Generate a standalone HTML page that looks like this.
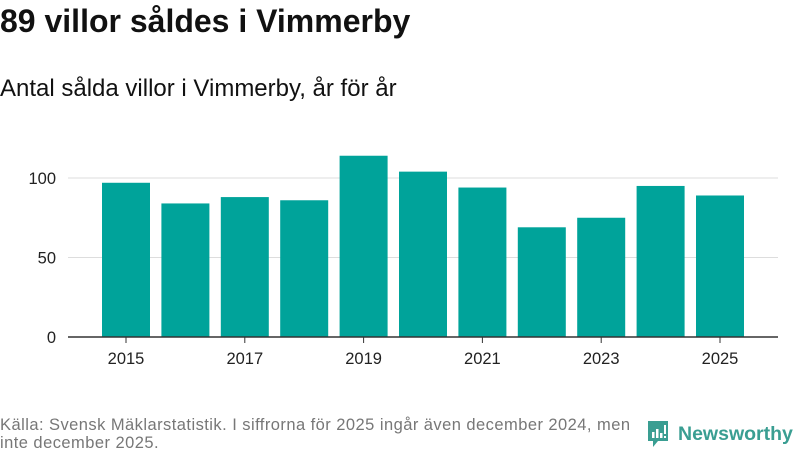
<!DOCTYPE html>
<html><head><meta charset="utf-8"><style>
body{margin:0;width:800px;height:450px;background:#fff;font-family:"Liberation Sans","DejaVu Sans",sans-serif;overflow:hidden;position:relative}
#title{position:absolute;left:0;top:3px;font-size:32px;font-weight:bold;color:#111}
#sub{position:absolute;left:0;top:75px;font-size:24px;color:#111}
#src{position:absolute;left:0;top:416px;font-size:16.5px;letter-spacing:0.45px;color:#777;line-height:18px;white-space:nowrap}
#logo{position:absolute;left:645px;top:419px;display:flex;align-items:center}
#logo span{font-size:19.5px;color:#3a9e92;font-weight:bold;margin-left:7px}
</style></head><body>
<div id="title">89 villor såldes i Vimmerby</div>
<div id="sub">Antal sålda villor i Vimmerby, år för år</div>
<svg id="chart" width="800" height="400" style="position:absolute;left:0;top:0"></svg>
<div id="src">Källa: Svensk Mäklarstatistik. I siffrorna för 2025 ingår även december 2024, men<br>inte december 2025.</div>
<div id="logo">
<svg width="26" height="30" viewBox="0 0 24 30"><path d="M2 2h20v20H12l-5 6v-6H2z" fill="#3a9e92"/><rect x="6" y="13" width="2.5" height="6" fill="#fff"/><rect x="10" y="10" width="2.5" height="9" fill="#fff"/><rect x="14" y="14" width="2.5" height="5" fill="#fff"/><rect x="18" y="6" width="2" height="9" fill="#fff"/><rect x="18" y="17" width="2" height="2" fill="#fff"/></svg>
<span>Newsworthy</span></div>
<script>
const years=[2015,2016,2017,2018,2019,2020,2021,2022,2023,2024,2025];
const values=[97,84,88,86,114,104,94,69,75,95,89];
const yTicks=[0,50,100];
const svg=document.getElementById('chart');
const NS='http://www.w3.org/2000/svg';
const y0=337,pxPer=1.59,x0=126,step=59.4,bw=48;
const y=v=>y0-v*pxPer, x=i=>x0+i*step;
function mk(t,a){const e=document.createElementNS(NS,t);for(const k in a)e.setAttribute(k,a[k]);svg.appendChild(e);return e;}
yTicks.forEach(t=>{
 if(t>0){const g=mk('line',{x1:68,x2:778,y1:y(t),y2:y(t),stroke:'#ddd','stroke-width':1});
 
 }
 const l=mk('text',{x:56,y:y(t)+6,'text-anchor':'end','font-size':16.5,fill:'#222','font-family':'Liberation Sans, sans-serif'});
 l.textContent=t;
 
 
});
values.forEach((v,i)=>{
 const r=mk('rect',{x:x(i)-bw/2,y:y(v),width:bw,height:v*pxPer,fill:'#00a39a'});
 
 
 if(i%2==0){
  mk('line',{x1:x(i),x2:x(i),y1:y0,y2:y0+6,stroke:'#333'});
  const l=mk('text',{x:x(i),y:364,'text-anchor':'middle','font-size':16.5,fill:'#222','font-family':'Liberation Sans, sans-serif'});
  l.textContent=years[i];
  
  
 }
});
const ax=mk('line',{x1:68,x2:778,y1:y0,y2:y0,stroke:'#333','stroke-width':1.5});


</script>
</body></html>
